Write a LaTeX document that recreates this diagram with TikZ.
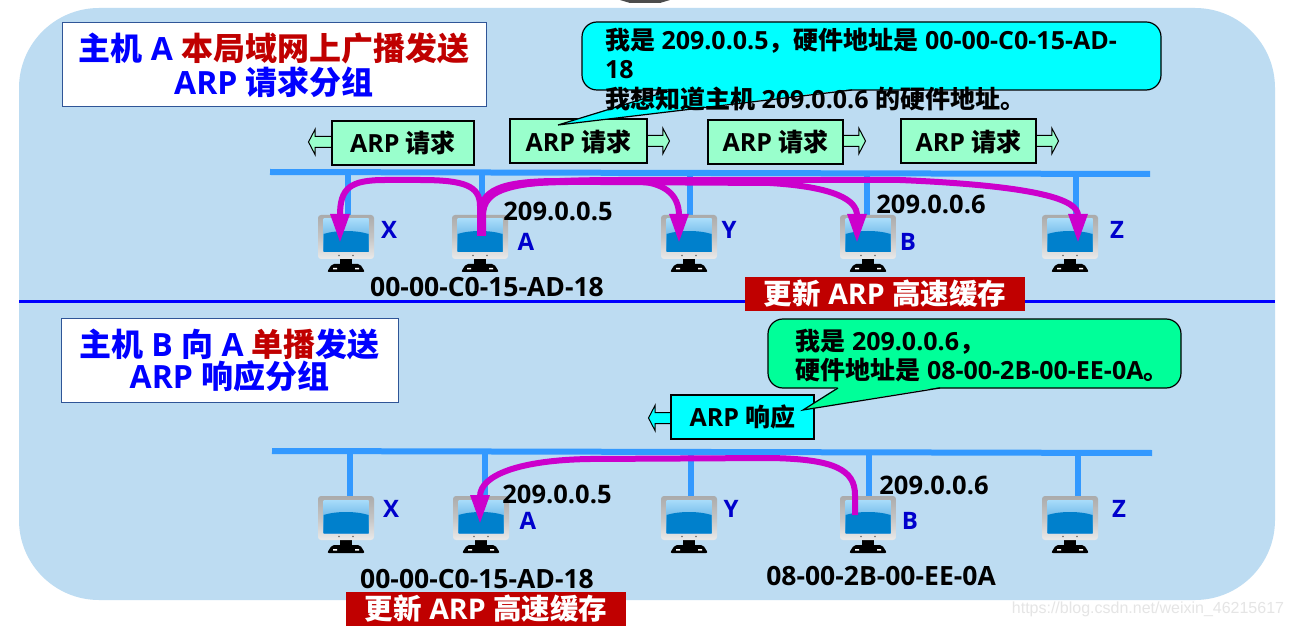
\documentclass[tikz,border=0pt]{standalone}
\usepackage{fontspec}
\setmainfont{Open Sans}
\newfontfamily\cjkfont{Noto Sans CJK SC}
\newfontfamily\markfont{Liberation Sans}
\usetikzlibrary{arrows.meta,shapes.arrows}
\newcommand{\zh}[1]{{\cjkfont #1}}
\definecolor{lan}{HTML}{BDDCF2}
\definecolor{wirec}{HTML}{3399FF}
\definecolor{darkred}{HTML}{C00000}
\definecolor{magent}{HTML}{CC00CC}
\definecolor{labelc}{HTML}{0000CC}
\definecolor{reqc}{HTML}{99FFCC}
\definecolor{okc}{HTML}{00FF99}
\definecolor{askc}{HTML}{00FFFF}
\definecolor{frame}{HTML}{2F5597}
\definecolor{lanscreen}{HTML}{0080CC}
\definecolor{skyscreen}{HTML}{A8DCFA}
\definecolor{midscreen}{HTML}{3F9AD8}
\definecolor{bezeltop}{HTML}{ABABAB}
\definecolor{bezellow}{HTML}{EAEAEA}
\tikzset{
	wire/.style={wirec, line width=6pt},
	flow/.style={magent, line width=6pt, -{Triangle[length=29pt,width=18pt]}},
	titlebox/.style={draw=frame, line width=1pt, fill=white, align=center, text=blue,
		font=\fontsize{32}{34}\selectfont\bfseries},
	packet/.style={draw=black, line width=2pt, inner sep=0pt, minimum height=44,
		font=\fontsize{25}{26}\selectfont\bfseries},
	pktarrow/.style={single arrow, draw=black, line width=1pt, fill=reqc, inner sep=5pt,
		minimum height=23, minimum width=24, single arrow tip angle=125, single arrow head indent=0pt},
	bubble/.style={draw=black, line width=1.2pt, rounded corners=15pt},
	saytext/.style={anchor=west, align=left, font=\fontsize{25}{29}\selectfont\bfseries},
	hostname/.style={text=labelc, font=\fontsize{24}{26}\selectfont\bfseries},
	addr/.style={font=\fontsize{25.5}{26}\selectfont\bfseries},
	macaddr/.style={font=\fontsize{26.5}{28}\selectfont\bfseries},
	cachebar/.style={fill=darkred, text=white, inner sep=0pt, minimum width=280, minimum height=34,
		font=\fontsize{28.5}{30}\selectfont\bfseries},
	monitor/.pic={
		\fill[black] (-6,43) rectangle (6,50);
		\fill[black, rounded corners=2pt] (-14,49) -- (14,49) -- (19,57) -- (-19,57) -- cycle;
		\fill[white] (-13,53) rectangle (-9,54.5) (9,53) rectangle (13,54.5);
		\shade[top color=bezeltop, bottom color=bezellow, middle color=bezeltop!70!white, rounded corners=3pt] (-28,0) rectangle (28,44);
		\fill[black!60] (-7,40.5) circle (.8) (7,40.5) circle (.8);
		\shade[top color=skyscreen, bottom color=midscreen] (-22.5,4) rectangle (22.5,37);
		\fill[lanscreen] (-22.5,37) -- (-22.5,19) .. controls (-10,15) and (10,15) .. (22.5,19) -- (22.5,37) -- cycle;
	}
}
\begin{document}
\begin{tikzpicture}[x=1pt, y=-1pt]
\useasboundingbox (0,0) rectangle (1293,628);
\fill[white] (0,0) rectangle (1293,628);
\fill[black!70] (620,0) -- (670,0) -- (660,3) -- (630,3) -- cycle;
\fill[lan, rounded corners=80pt] (19,8) rectangle (1275,600);
\draw[blue, line width=3pt] (19,302) -- (1275,302);

% upper half
\node[titlebox, minimum width=424, minimum height=84] (titleA) at (274,65)
	{\zh{主机} A \textcolor{darkred}{\zh{本局域网上广播发送}}\\ARP \zh{请求分组}};

\coordinate (busAw) at (270,172);
\coordinate (busAe) at (1150,174);
\draw[wire] (busAw) -- (busAe);
\foreach \name/\x/\d in {X/346/2, A/480/2, Y/689/1, B/868/-1, Z/1070/6}{
	\coordinate (\name1) at (\x,215);
	\draw[wire] (\name1) ++(\d,0) -- ++(0,-42);
	\pic at (\name1) {monitor};
}

\node[pktarrow, shape border rotate=180, anchor=tail] (arrA) at (332,142) {};
\node[pktarrow, anchor=tail] (arrB) at (646,141) {};
\node[pktarrow, anchor=tail] (arrC) at (842,141) {};
\node[pktarrow, anchor=tail] (arrD) at (1035,141) {};
\node[packet, fill=reqc, minimum width=142] (reqA) at (403,143) {ARP \zh{请求}};
\node[packet, fill=reqc, minimum width=137] (reqB) at (578.5,141.5) {ARP \zh{请求}};
\node[packet, fill=reqc, minimum width=135] (reqC) at (775.5,142) {ARP \zh{请求}};
\node[packet, fill=reqc, minimum width=135] (reqD) at (968.5,141.5) {ARP \zh{请求}};

\node[bubble, fill=askc, minimum width=579, minimum height=68] (ask) at (871.5,56) {};
\coordinate (askTip) at (558,125);
\fill[askc] (askTip) -- (672,89) -- (852,89) -- cycle;
\draw[line width=1.2pt] (672,90) -- (askTip) -- (852,90);
\node[saytext] (askText) at (601.5,70) {\zh{我是} 209.0.0.5\zh{，硬件地址是} 00-00-C0-15-AD-\\18\\[1pt]\zh{我想知道主机} 209.0.0.6 \zh{的硬件地址。}};

\draw[flow] (A1) ++(0,21) -- ++(0,-30) .. controls (480,186) and (465,180) .. (420,180)
	-- (385,180) .. controls (350,180) and (340,188) .. (340,243);
\draw[flow] (A1) ++(0,21) -- ++(0,-20) .. controls (480,190) and (500,181) .. (560,181)
	-- (630,181) .. controls (665,181) and (679,195) .. (679,243);
\draw[flow] (A1) ++(1,21) -- ++(0,-20) .. controls (481,188) and (500,181) .. (600,182)
	-- (770,183) .. controls (835,187) and (857,200) .. (857,243);
\draw[flow] (A1) ++(3,21) -- ++(0,-20) .. controls (483,188) and (510,180) .. (620,180)
	-- (900,180) .. controls (1040,186) and (1078,200) .. (1078,243);

\foreach \name/\x/\y in {X/389/230, A/526/242, Y/729/230, B/908/242, Z/1117/230}
	\node[hostname] (lab\name1) at (\x,\y) {\name};
\node[addr] (ipA1) at (558,211) {209.0.0.5};
\node[addr] (ipB1) at (931,204) {209.0.0.6};
\node[macaddr] (macA1) at (487,287) {00-00-C0-15-AD-18};
\node[cachebar] (cacheB) at (885,294) {\zh{更新} ARP \zh{高速缓存}};

% lower half
\node[titlebox, minimum width=337, minimum height=83] (titleB) at (229.5,360.5)
	{\zh{主机} B \zh{向} A \textcolor{darkred}{\zh{单播}}\zh{发送}\\[-2pt]ARP \zh{响应分组}};

\coordinate (busBw) at (272,451);
\coordinate (busBe) at (1152,453);
\draw[wire] (busBw) -- (busBe);
\foreach \name/\x/\d in {X/346/4, A/481/4, Y/689/2, B/868/1, Z/1070/8}{
	\coordinate (\name2) at (\x,496);
	\draw[wire] (\name2) ++(\d,0) -- ++(0,-44);
	\pic at (\name2) {monitor};
}

\node[pktarrow, shape border rotate=180, anchor=tail, fill=askc] (arrR) at (672,418) {};
\node[packet, fill=askc, minimum width=143] (resp) at (742.5,417) {ARP \zh{响应}};

\node[bubble, fill=okc, minimum width=413, minimum height=69] (tell) at (974.5,353.5) {};
\coordinate (tellTip) at (803,410);
\fill[okc] (tellTip) -- (838,387) -- (940,387) -- cycle;
\draw[line width=1.2pt] (838,388) -- (tellTip) -- (940,388);
\node[saytext] (tellText) at (792,356) {\zh{我是} 209.0.0.6\zh{，}\\\zh{硬件地址是} 08-00-2B-00-EE-0A\zh{。}};

\draw[flow] (B2) ++(-13,19) -- ++(0,-20) .. controls (855,470) and (835,459) .. (770,458)
	-- (590,459) .. controls (520,460) and (480,475) .. (480,524);

\foreach \name/\x/\y in {X/391/509, A/528/521, Y/731/509, B/910/521, Z/1119/509}
	\node[hostname] (lab\name2) at (\x,\y) {\name};
\node[addr] (ipA2) at (557,494) {209.0.0.5};
\node[addr] (ipB2) at (934,485) {209.0.0.6};
\node[macaddr] (macA2) at (477,579) {00-00-C0-15-AD-18};
\node[macaddr] (macB2) at (881,576) {08-00-2B-00-EE-0A};
\node[cachebar] (cacheA) at (486,609) {\zh{更新} ARP \zh{高速缓存}};

\node[text=black!10, font=\markfont\fontsize{16}{18}\selectfont] (mark) at (1148,609) {https://blog.csdn.net/weixin\_46215617};
\end{tikzpicture}
\end{document}
